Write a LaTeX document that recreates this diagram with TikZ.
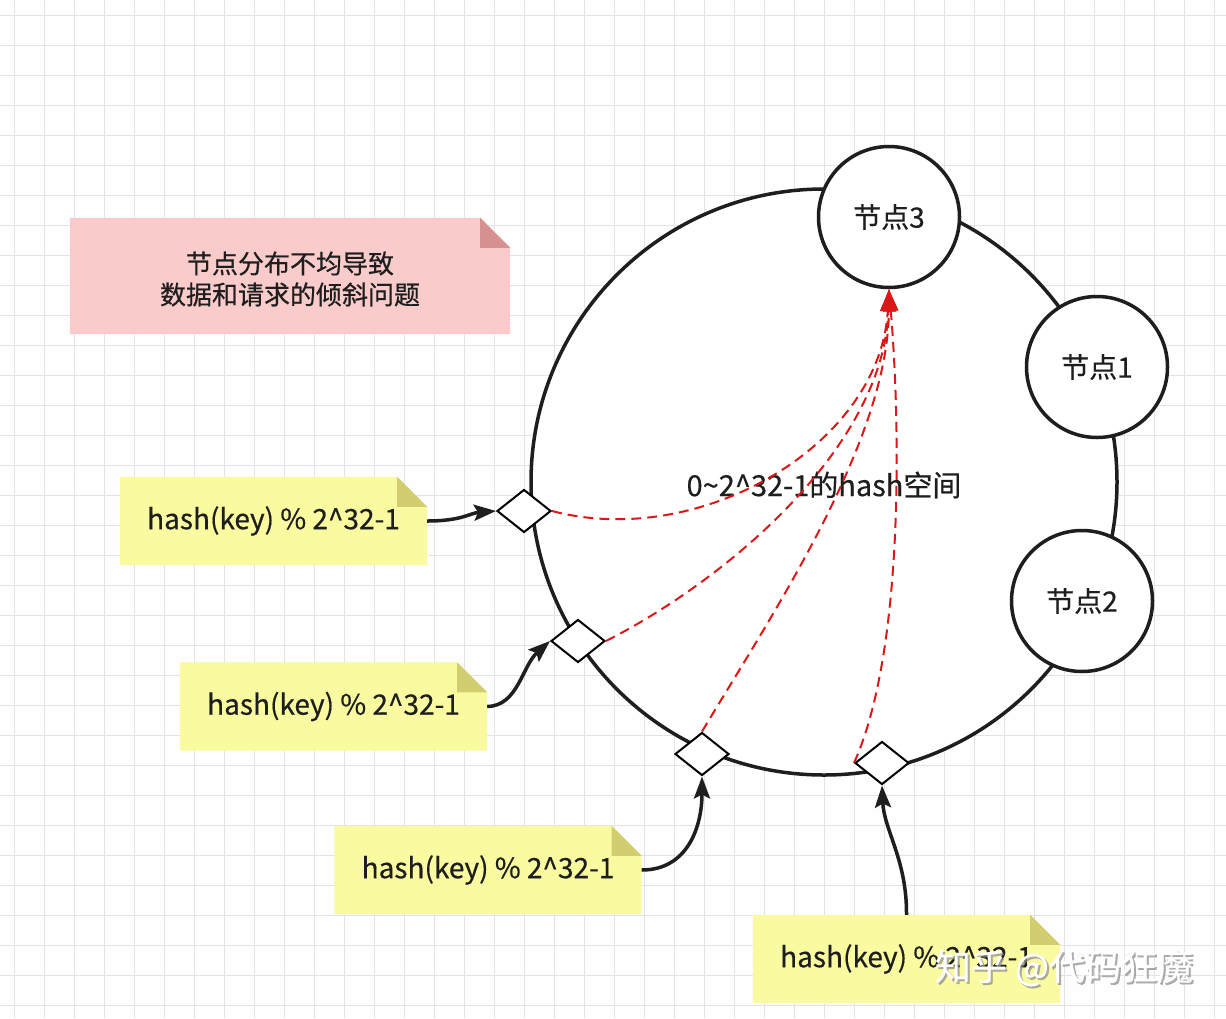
\documentclass[tikz,border=0pt]{standalone}
\usepackage{fontspec}
\setmainfont{Noto Sans CJK SC}[FakeBold=0.5]
\usetikzlibrary{arrows.meta,shapes.geometric}
\pgfdeclarelayer{gridlayer}
\pgfdeclarelayer{notelayer}
\pgfsetlayers{gridlayer,notelayer,main}
\definecolor{pinknote}{RGB}{249,203,202}
\definecolor{pinkfold}{RGB}{214,144,144}
\definecolor{yelnote}{RGB}{250,250,160}
\definecolor{yelfold}{RGB}{208,206,112}
\definecolor{gridcol}{RGB}{228,226,232}
\definecolor{redline}{RGB}{218,24,24}
\definecolor{inkline}{RGB}{30,30,30}
\newcommand\mynotebg[3]{%
  \begin{pgfonlayer}{notelayer}
    \fill[#2] (#1.north west) -- ([xshift=-30pt]#1.north east) -- ([yshift=-30pt]#1.north east) -- (#1.south east) -- (#1.south west) -- cycle;
    \fill[#3] ([xshift=-30pt]#1.north east) -- ([xshift=-30pt,yshift=-30pt]#1.north east) -- ([yshift=-30pt]#1.north east) -- cycle;
  \end{pgfonlayer}}
\tikzset{
  gridline/.style={draw=gridcol, line width=1pt},
  notebox/.style={rectangle, inner sep=0pt, minimum width=307pt, minimum height=88pt, text=inkline, font=\fontsize{28}{32}\selectfont},
  hashnode/.style={circle, draw=inkline, line width=3.5pt, fill=white, minimum size=141pt, inner sep=0pt, text=inkline, font=\fontsize{28}{32}\selectfont},
  keybox/.style={diamond, draw=black, line width=2pt, fill=white, minimum width=54pt, minimum height=43pt, inner sep=0pt},
  feed/.style={draw=inkline, line width=3.5pt, -{Stealth[length=22pt,width=16pt,inset=4pt]}},
  mapto/.style={draw=redline, line width=2pt, dash pattern=on 10pt off 6pt, -{Triangle[length=22pt,width=15pt]}},
}
\begin{document}
\begin{tikzpicture}[x=1pt,y=-1pt]
\useasboundingbox (0,0) rectangle (1226,1018);
\begin{pgfonlayer}{gridlayer}
  \fill[white!97!gridcol] (0,0) rectangle (1226,1018);
  \foreach \x in {14,44,...,1214} \draw[gridline] (\x,0) -- (\x,1018);
  \foreach \y in {15,45,...,1005} \draw[gridline] (0,\y) -- (1226,\y);
\end{pgfonlayer}

% ring
\node[circle, draw=inkline, line width=3.5pt, fill=white, minimum size=586pt, inner sep=0pt] (ring) at (824,482) {};
\node[text=inkline, font=\fontsize{29}{32}\selectfont] (space) at (824,485) {0\textasciitilde 2\textasciicircum 32-1的hash空间};

% server nodes
\node[hashnode] (n3) at (889,217) {节点3};
\node[hashnode] (n1) at (1097,367) {节点1};
\node[hashnode] (n2) at (1082,601) {节点2};

% notes
\node[notebox, minimum width=440pt, minimum height=116pt] (warn) at (290,276) {};
\mynotebg{warn}{pinknote}{pinkfold}
\node[text=inkline, align=center, font=\fontsize{26}{31}\selectfont] (warntext) at (290,279) {节点分布不均导致\\数据和请求的倾斜问题};
\node[notebox] (k1) at (273.5,521) {hash(key) \% 2\textasciicircum 32-1};
\mynotebg{k1}{yelnote}{yelfold}
\node[notebox] (k2) at (333.5,706.5) {hash(key) \% 2\textasciicircum 32-1};
\mynotebg{k2}{yelnote}{yelfold}
\node[notebox] (k3) at (488,870) {hash(key) \% 2\textasciicircum 32-1};
\mynotebg{k3}{yelnote}{yelfold}
\node[notebox] (k4) at (906.5,959) {hash(key) \% 2\textasciicircum 32-1};
\mynotebg{k4}{yelnote}{yelfold}

% key positions on the ring
\node[keybox] (d1) at (524,511) {};
\node[keybox] (d2) at (578,641) {};
\node[keybox] (d3) at (702,754) {};
\node[keybox] (d4) at (882,763) {};

% feeds
\draw[feed] (k1.east) .. controls (462,521) and (470,513) .. (d1.west);
\draw[feed] (k2.east) .. controls (518,706) and (522,666) .. (d2.west);
\draw[feed] (k3.east) .. controls (688,870) and (702,826) .. (d3.south);
\draw[feed] (k4.north) .. controls (907,860) and (884,830) .. (d4.south);

% mapping to node 3
\draw[mapto] (d1.east) .. controls (700,550) and (880,445) .. (n3.south);
\draw[mapto] (d2.east) .. controls (730,578) and (884,445) .. (n3.south);
\draw[mapto] (d3.north) .. controls (775,610) and (888,440) .. (n3.south);
\draw[mapto] (d4.west) .. controls (905,650) and (900,420) .. (n3.south);

% watermark
\node[text=black!45, opacity=0.7, font=\fontsize{36}{40}\selectfont] (wmshadow) at (1066,970) {知乎 @代码狂魔};
\node[text=white, font=\fontsize{36}{40}\selectfont] (wm) at (1064,968) {知乎 @代码狂魔};
\end{tikzpicture}
\end{document}
